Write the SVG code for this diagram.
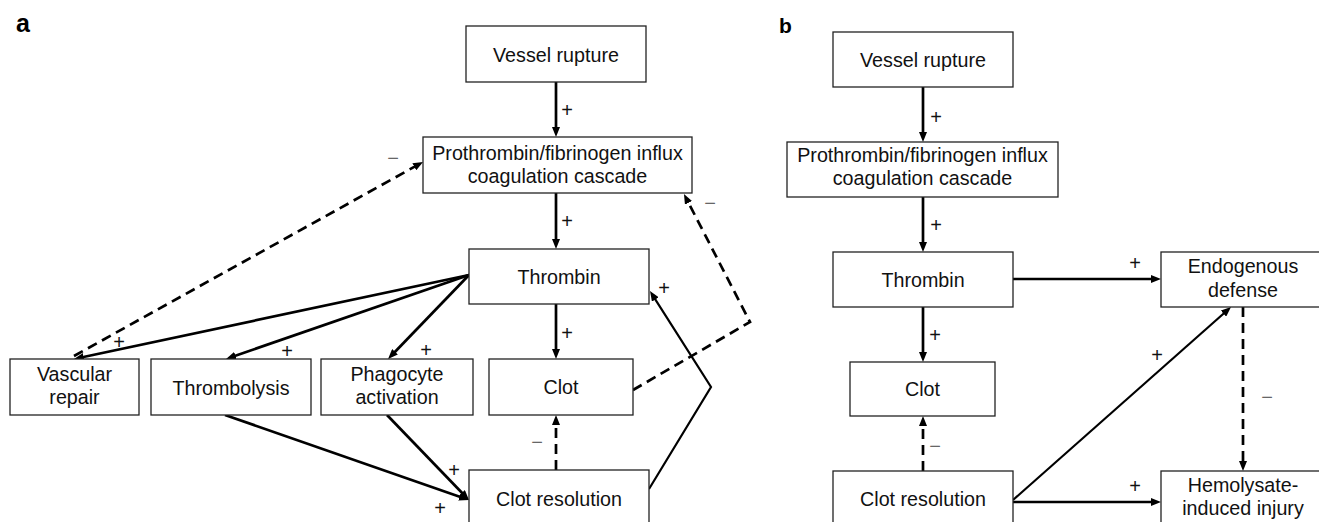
<svg xmlns="http://www.w3.org/2000/svg" width="1319" height="522" viewBox="0 0 1319 522">
<style>
.box{fill:#fff;stroke:#222;stroke-width:1.3}
.t{font-family:"Liberation Sans",Arial,sans-serif;font-size:19.7px;fill:#111;text-anchor:middle}
.lbl{font-family:"Liberation Sans",Arial,sans-serif;font-size:20px;fill:#111;text-anchor:middle}
.neg{fill:#666}
.panel{font-family:"Liberation Sans",Arial,sans-serif;font-weight:bold;fill:#000}
.ln{fill:none;stroke:#000;stroke-width:2.7;marker-end:url(#ah)}
.thin{stroke-width:2.2}
.dash{stroke-dasharray:10 6}
</style>
<defs>
<marker id="ah" viewBox="0 0 10 8" markerWidth="10" markerHeight="8" refX="4" refY="4" orient="auto" markerUnits="userSpaceOnUse">
<path d="M0,0 L10,4 L0,8 z" fill="#000"/>
</marker>
</defs>
<text class="panel" x="16" y="32" font-size="25">a</text>
<text class="panel" x="779" y="33" font-size="21">b</text>
<g id="connectors">
<line class="ln" x1="556" y1="82" x2="556" y2="131"/>
<line class="ln" x1="556" y1="193" x2="556" y2="243"/>
<line class="ln" x1="556" y1="304" x2="556" y2="353"/>
<line class="ln" x1="469" y1="275" x2="79.9" y2="357.75"/>
<line class="ln" x1="469" y1="275" x2="231.7" y2="357"/>
<line class="ln" x1="469" y1="275" x2="392.2" y2="354.7"/>
<line class="ln" x1="225" y1="415" x2="463.3" y2="498"/>
<line class="ln" x1="387" y1="415" x2="464.8" y2="495.7"/>
<line class="ln dash" x1="556" y1="470" x2="556" y2="421"/>
<line class="ln dash" x1="74" y1="356" x2="417.8" y2="164.9"/>
<polyline class="ln dash" points="633,390 750,322 686.7,199.3"/>
<polyline class="ln thin" points="649,489 711,387 653.2,296.1"/>
<line class="ln" x1="923" y1="87" x2="923" y2="136"/>
<line class="ln" x1="923" y1="197" x2="923" y2="246"/>
<line class="ln" x1="923" y1="307" x2="923" y2="356"/>
<line class="ln dash" x1="923" y1="471" x2="923" y2="422"/>
<line class="ln" x1="1013" y1="279" x2="1155" y2="279"/>
<line class="ln thin" x1="1013" y1="500" x2="1226.5" y2="311"/>
<line class="ln dash" x1="1243" y1="307" x2="1243" y2="465"/>
<line class="ln" x1="1013" y1="502" x2="1155" y2="502"/>
<text class="lbl" x="567" y="117">+</text>
<text class="lbl" x="567" y="228">+</text>
<text class="lbl" x="567" y="340">+</text>
<text class="lbl" x="119" y="349">+</text>
<text class="lbl" x="287" y="358">+</text>
<text class="lbl" x="426" y="357">+</text>
<text class="lbl" x="454" y="477">+</text>
<text class="lbl" x="440" y="515">+</text>
<text class="lbl neg" x="537" y="449">−</text>
<text class="lbl neg" x="393" y="165">−</text>
<text class="lbl neg" x="710" y="210">−</text>
<text class="lbl" x="664" y="295">+</text>
<text class="lbl" x="936" y="124">+</text>
<text class="lbl" x="936" y="232">+</text>
<text class="lbl" x="935" y="342">+</text>
<text class="lbl neg" x="935" y="453">−</text>
<text class="lbl" x="1135" y="270">+</text>
<text class="lbl" x="1157" y="362">+</text>
<text class="lbl neg" x="1267" y="404">−</text>
<text class="lbl" x="1135" y="493">+</text>
</g>
<g id="a-vessel"><rect class="box" x="466" y="26" width="180" height="56"/><text class="t" x="556" y="62">Vessel rupture</text></g>
<g id="a-proth"><rect class="box" x="423" y="137" width="269" height="56"/><text class="t" x="557.5" y="160">Prothrombin/fibrinogen influx</text><text class="t" x="557.5" y="183">coagulation cascade</text></g>
<g id="a-thrombin"><rect class="box" x="469" y="249" width="180" height="55"/><text class="t" x="559" y="284">Thrombin</text></g>
<g id="a-vascular"><rect class="box" x="10" y="359" width="129" height="56"/><text class="t" x="74.5" y="381">Vascular</text><text class="t" x="74.5" y="404">repair</text></g>
<g id="a-thrombolysis"><rect class="box" x="151" y="359" width="160" height="56"/><text class="t" x="231" y="395">Thrombolysis</text></g>
<g id="a-phagocyte"><rect class="box" x="321" y="359" width="152" height="56"/><text class="t" x="397" y="381">Phagocyte</text><text class="t" x="397" y="404">activation</text></g>
<g id="a-clot"><rect class="box" x="489" y="359" width="144" height="56"/><text class="t" x="561" y="394">Clot</text></g>
<g id="a-clotres"><rect class="box" x="469" y="470" width="180" height="60"/><text class="t" x="559" y="506">Clot resolution</text></g>
<g id="b-vessel"><rect class="box" x="833" y="32" width="180" height="55"/><text class="t" x="923" y="67">Vessel rupture</text></g>
<g id="b-proth"><rect class="box" x="787" y="142" width="271" height="55"/><text class="t" x="922.5" y="162">Prothrombin/fibrinogen influx</text><text class="t" x="922.5" y="185">coagulation cascade</text></g>
<g id="b-thrombin"><rect class="box" x="833" y="252" width="180" height="55"/><text class="t" x="923" y="287">Thrombin</text></g>
<g id="b-clot"><rect class="box" x="850" y="362" width="145" height="54"/><text class="t" x="922.5" y="396">Clot</text></g>
<g id="b-clotres"><rect class="box" x="833" y="471" width="180" height="60"/><text class="t" x="923" y="506">Clot resolution</text></g>
<g id="b-endogenous"><rect class="box" x="1161" y="252" width="166" height="55"/><text class="t" x="1243" y="273">Endogenous</text><text class="t" x="1243" y="297">defense</text></g>
<g id="b-hemolysate"><rect class="box" x="1161" y="471" width="166" height="60"/><text class="t" x="1243" y="492">Hemolysate-</text><text class="t" x="1243" y="515">induced injury</text></g>
</svg>
